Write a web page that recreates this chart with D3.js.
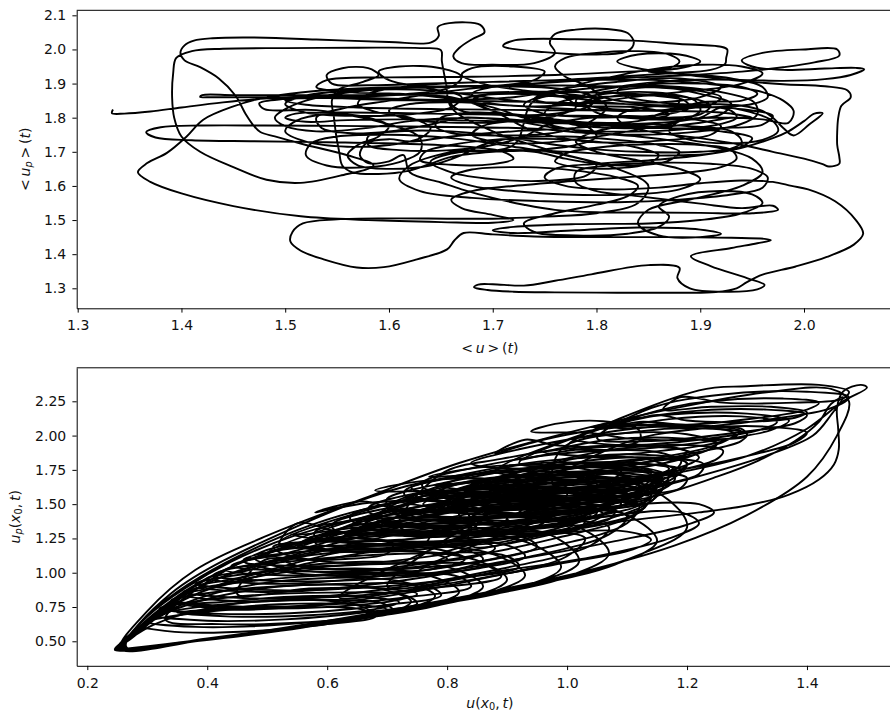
<!DOCTYPE html>
<html>
<head>
<meta charset="utf-8">
<script src="https://cdn.jsdelivr.net/npm/d3@7"></script>
<style>
  body { margin: 0; background: #fff; }
  svg { display: block; }
  text { font-family: "DejaVu Sans", sans-serif; fill: #111; }
</style>
</head>
<body>
<svg id="fig" width="890" height="713"></svg>
<script>
// ---- tick values ----
const meanUTicks  = [1.3, 1.4, 1.5, 1.6, 1.7, 1.8, 1.9, 2.0];
const meanUpTicks = [1.3, 1.4, 1.5, 1.6, 1.7, 1.8, 1.9, 2.0, 2.1];
const localUTicks  = [0.2, 0.4, 0.6, 0.8, 1.0, 1.2, 1.4];
const localUpTicks = [0.5, 0.75, 1.0, 1.25, 1.5, 1.75, 2.0, 2.25];

// ---- spatial means <u>(t), <u_p>(t): one trajectory, stored piece by piece ----
const meanStart = [[1.334,1.824],[1.333,1.813],[1.345,1.812],[1.37,1.818],[1.40,1.830],[1.44,1.845],[1.48,1.856],[1.53,1.863],[1.60,1.868],[1.67,1.872],[1.74,1.876],[1.80,1.874],[1.85,1.866],[1.885,1.850],[1.89,1.830],[1.87,1.812],[1.83,1.802],[1.78,1.803],[1.745,1.815],[1.73,1.838],[1.745,1.862],[1.78,1.882],[1.83,1.893],[1.88,1.890],[1.925,1.872],[1.952,1.845],[1.955,1.810],[1.938,1.780],[1.900,1.760],[1.845,1.750],[1.790,1.755],[1.740,1.768]];
const meanLeft = [[1.68,1.772],[1.62,1.774],[1.55,1.776],[1.48,1.777],[1.42,1.777],[1.38,1.772],[1.366,1.758],[1.375,1.742],[1.41,1.734],[1.47,1.731],[1.54,1.728],[1.61,1.724],[1.67,1.716],[1.71,1.700],[1.72,1.680],[1.70,1.664],[1.66,1.662],[1.63,1.676],[1.635,1.700],[1.66,1.720],[1.70,1.735],[1.75,1.738],[1.80,1.730],[1.84,1.712],[1.86,1.690],[1.85,1.665],[1.82,1.652],[1.78,1.655],[1.76,1.672],[1.77,1.695],[1.80,1.712],[1.85,1.722],[1.90,1.720],[1.93,1.705],[1.935,1.680],[1.92,1.655],[1.89,1.640]];
const meanSweep = [[1.84,1.628],[1.78,1.615],[1.72,1.600],[1.68,1.585],[1.66,1.560],[1.67,1.535],[1.70,1.515],[1.72,1.500],[1.70,1.492],[1.65,1.494],[1.58,1.500],[1.515,1.511],[1.45,1.541],[1.40,1.578],[1.37,1.612],[1.358,1.640],[1.367,1.667],[1.386,1.697],[1.405,1.745],[1.421,1.794],[1.45,1.833],[1.482,1.860],[1.515,1.874],[1.56,1.884],[1.62,1.890],[1.68,1.893],[1.74,1.895],[1.80,1.893],[1.86,1.888],[1.90,1.878],[1.92,1.860],[1.91,1.838],[1.88,1.825],[1.84,1.822],[1.80,1.830],[1.78,1.848],[1.79,1.870],[1.82,1.890],[1.86,1.905],[1.91,1.912],[1.95,1.910],[1.98,1.908],[2.02,1.913],[2.045,1.925],[2.058,1.942],[2.050,1.946],[2.02,1.944],[1.98,1.940]];
const meanTopRight = [[1.95,1.950],[1.94,1.968],[1.96,1.990],[2.00,2.000],[2.032,2.000],[2.034,1.982],[2.01,1.962],[1.98,1.948],[1.94,1.935],[1.89,1.925],[1.84,1.918],[1.79,1.910],[1.74,1.900],[1.70,1.890],[1.68,1.870],[1.69,1.848],[1.72,1.835],[1.76,1.835],[1.79,1.848],[1.80,1.870],[1.79,1.895],[1.77,1.920],[1.76,1.950],[1.77,1.975],[1.80,1.990],[1.84,1.995],[1.87,1.985],[1.88,1.965],[1.87,1.945],[1.85,1.935]];
const meanRightEdge = [[1.88,1.928],[1.93,1.910],[1.98,1.898],[2.02,1.892],[2.042,1.880],[2.045,1.860],[2.036,1.835],[2.033,1.800],[2.032,1.760],[2.032,1.720],[2.034,1.685],[2.034,1.665],[2.024,1.657],[2.018,1.664],[2.00,1.680],[1.97,1.700],[1.94,1.720],[1.90,1.740],[1.86,1.755],[1.83,1.775],[1.82,1.800],[1.83,1.820],[1.86,1.835],[1.90,1.840],[1.94,1.835],[1.96,1.820],[1.97,1.800],[1.98,1.770],[1.99,1.748],[2.005,1.780],[2.018,1.813],[2.010,1.812],[2.000,1.790],[1.985,1.760],[1.97,1.740],[1.94,1.712],[1.90,1.690],[1.85,1.675]];
const meanLowRight = [[1.80,1.665],[1.76,1.650],[1.75,1.625],[1.77,1.600],[1.81,1.590],[1.86,1.595],[1.90,1.608],[1.94,1.616],[1.97,1.612],[1.988,1.600],[2.004,1.590],[2.03,1.555],[2.050,1.500],[2.057,1.460],[2.048,1.428],[2.022,1.392],[1.992,1.364],[1.960,1.340],[1.945,1.318],[1.935,1.300],[1.915,1.289],[1.88,1.287],[1.82,1.287],[1.76,1.288],[1.72,1.290],[1.695,1.295],[1.682,1.303],[1.686,1.311],[1.70,1.312],[1.73,1.308],[1.76,1.322],[1.795,1.341],[1.85,1.368],[1.88,1.360],[1.878,1.330],[1.89,1.300],[1.925,1.290],[1.955,1.297],[1.962,1.310],[1.945,1.330],[1.91,1.365],[1.891,1.394],[1.93,1.418],[1.955,1.432],[1.968,1.441],[1.962,1.445],[1.93,1.448],[1.88,1.450],[1.80,1.450],[1.74,1.452],[1.70,1.458],[1.672,1.462],[1.663,1.440],[1.656,1.414],[1.627,1.385],[1.595,1.362],[1.569,1.361],[1.537,1.385],[1.515,1.410],[1.505,1.437],[1.507,1.465],[1.517,1.490],[1.55,1.502],[1.60,1.505],[1.66,1.504],[1.70,1.504],[1.75,1.510]];
const meanTopLeft = [[1.80,1.520],[1.84,1.550],[1.85,1.600],[1.82,1.650],[1.76,1.700],[1.70,1.760],[1.66,1.830],[1.655,1.900],[1.651,1.965],[1.650,1.998],[1.63,2.004],[1.57,2.005],[1.50,2.004],[1.44,2.002],[1.41,1.995],[1.395,1.975],[1.392,1.930],[1.391,1.860],[1.393,1.800],[1.400,1.745],[1.418,1.700],[1.45,1.655],[1.482,1.618],[1.515,1.609],[1.553,1.630],[1.585,1.660],[1.56,1.690],[1.52,1.720],[1.49,1.745],[1.476,1.758],[1.470,1.775],[1.462,1.810],[1.452,1.865],[1.436,1.915],[1.418,1.948],[1.403,1.968],[1.399,1.990],[1.403,2.012],[1.412,2.026],[1.43,2.033],[1.47,2.035],[1.53,2.029],[1.60,2.022],[1.64,2.020],[1.648,2.040],[1.647,2.065],[1.658,2.077],[1.688,2.072],[1.692,2.050],[1.68,2.030],[1.668,2.005],[1.662,1.980],[1.67,1.960],[1.70,1.955],[1.74,1.960],[1.76,1.990],[1.755,2.020],[1.76,2.045],[1.78,2.058],[1.81,2.060],[1.83,2.048],[1.836,2.020],[1.83,1.995],[1.80,1.985],[1.75,1.992],[1.71,2.010],[1.72,2.026],[1.78,2.030],[1.84,2.025],[1.88,2.016],[1.92,2.008],[1.926,2.000],[1.925,1.975],[1.924,1.958],[1.91,1.940]];
const meanCore1 = [[1.87,1.930],[1.82,1.920],[1.76,1.910],[1.70,1.905],[1.64,1.900],[1.58,1.895],[1.545,1.900],[1.540,1.925],[1.555,1.945],[1.58,1.945],[1.59,1.925],[1.575,1.905],[1.55,1.880],[1.545,1.850],[1.547,1.800],[1.549,1.750],[1.552,1.700],[1.555,1.660],[1.565,1.640],[1.59,1.635],[1.62,1.645],[1.64,1.665],[1.66,1.685],[1.70,1.700],[1.74,1.705],[1.78,1.720],[1.80,1.745],[1.79,1.775],[1.76,1.790],[1.72,1.790],[1.69,1.775],[1.68,1.750],[1.70,1.730],[1.74,1.725],[1.79,1.740],[1.84,1.765],[1.88,1.790],[1.90,1.820],[1.895,1.850],[1.87,1.870],[1.83,1.875],[1.79,1.862],[1.76,1.840],[1.75,1.810],[1.77,1.785],[1.81,1.770],[1.86,1.772],[1.90,1.785],[1.93,1.800]];
const meanCore2 = [[1.95,1.800],[1.92,1.815],[1.85,1.820],[1.75,1.822],[1.65,1.825],[1.57,1.830],[1.52,1.838],[1.50,1.850],[1.52,1.858],[1.60,1.852],[1.70,1.848],[1.80,1.842],[1.88,1.835],[1.94,1.825],[1.97,1.805],[1.96,1.780],[1.92,1.770],[1.85,1.770],[1.78,1.782],[1.70,1.790],[1.62,1.795],[1.56,1.793],[1.52,1.788],[1.50,1.800],[1.51,1.812],[1.56,1.815],[1.64,1.812],[1.72,1.808],[1.80,1.805],[1.86,1.800],[1.90,1.792],[1.92,1.775],[1.91,1.750],[1.87,1.735],[1.80,1.728],[1.74,1.760],[1.70,1.820],[1.66,1.860],[1.58,1.866],[1.50,1.866],[1.45,1.866],[1.42,1.866],[1.418,1.861],[1.43,1.860],[1.50,1.860],[1.58,1.858],[1.66,1.852],[1.72,1.860],[1.76,1.880],[1.80,1.910],[1.85,1.940],[1.90,1.955],[1.94,1.950],[1.96,1.930],[1.94,1.900],[1.88,1.875],[1.80,1.860],[1.74,1.850],[1.72,1.720]];
const meanCore3 = [[1.66,1.700],[1.62,1.660],[1.61,1.620],[1.63,1.585],[1.68,1.565],[1.75,1.555],[1.82,1.552],[1.88,1.560],[1.93,1.575],[1.96,1.595],[1.965,1.625],[1.95,1.650],[1.91,1.665],[1.86,1.668],[1.81,1.660],[1.78,1.640],[1.78,1.610],[1.80,1.585],[1.84,1.570],[1.90,1.548],[1.94,1.535],[1.97,1.542],[1.975,1.530],[1.95,1.520],[1.90,1.521],[1.85,1.522],[1.80,1.523],[1.76,1.530],[1.73,1.545],[1.70,1.565],[1.67,1.590],[1.65,1.610],[1.62,1.640],[1.614,1.690],[1.60,1.672],[1.58,1.667],[1.572,1.690],[1.578,1.725],[1.60,1.737],[1.62,1.730],[1.66,1.745],[1.72,1.760],[1.78,1.770],[1.84,1.790],[1.87,1.810],[1.84,1.830],[1.78,1.835],[1.74,1.855],[1.76,1.880],[1.82,1.905],[1.88,1.915],[1.92,1.890],[1.90,1.860],[1.86,1.845],[1.82,1.850],[1.80,1.870],[1.82,1.880]];
const meanCore4 = [[1.86,1.890],[1.90,1.870],[1.93,1.840],[1.92,1.810],[1.88,1.795],[1.83,1.800],[1.80,1.815],[1.79,1.840],[1.81,1.860],[1.85,1.868],[1.88,1.855],[1.875,1.830],[1.84,1.820],[1.78,1.825],[1.72,1.835],[1.67,1.845],[1.62,1.840],[1.60,1.820],[1.62,1.795],[1.67,1.785],[1.72,1.790],[1.76,1.805],[1.78,1.830],[1.77,1.858],[1.74,1.872],[1.70,1.870],[1.68,1.850],[1.70,1.820],[1.75,1.795],[1.81,1.780],[1.87,1.770],[1.92,1.760],[1.95,1.740],[1.94,1.715],[1.90,1.700],[1.84,1.700],[1.79,1.710],[1.75,1.725],[1.71,1.745],[1.66,1.760],[1.61,1.760],[1.58,1.745],[1.58,1.720],[1.61,1.705],[1.66,1.705],[1.70,1.720],[1.73,1.745],[1.75,1.775],[1.78,1.795],[1.83,1.805],[1.87,1.800],[1.90,1.810],[1.91,1.835],[1.89,1.858],[1.85,1.865],[1.81,1.850]];
const meanCore5 = [[1.78,1.840],[1.72,1.850],[1.64,1.880],[1.57,1.880],[1.52,1.865],[1.50,1.840],[1.52,1.815],[1.57,1.805],[1.62,1.810],[1.66,1.830],[1.67,1.860],[1.64,1.885],[1.60,1.910],[1.59,1.935],[1.61,1.950],[1.65,1.945],[1.67,1.920],[1.66,1.890],[1.62,1.870],[1.56,1.860],[1.50,1.855],[1.475,1.842],[1.48,1.825],[1.53,1.822],[1.60,1.780],[1.63,1.740],[1.63,1.700],[1.61,1.670],[1.58,1.655],[1.54,1.660],[1.52,1.690],[1.525,1.725],[1.55,1.745],[1.60,1.750],[1.66,1.740],[1.72,1.715],[1.77,1.690],[1.80,1.660],[1.79,1.630],[1.75,1.615],[1.70,1.620],[1.66,1.640],[1.64,1.670],[1.66,1.695],[1.71,1.705],[1.77,1.700],[1.83,1.690],[1.88,1.690],[1.92,1.700],[1.94,1.730],[1.93,1.760],[1.89,1.775]];
const meanCore6 = [[1.85,1.780],[1.80,1.760],[1.78,1.730],[1.80,1.700],[1.84,1.675],[1.88,1.650],[1.90,1.620],[1.88,1.590],[1.83,1.575],[1.77,1.575],[1.72,1.585],[1.68,1.600],[1.66,1.625],[1.68,1.648],[1.73,1.655],[1.78,1.645],[1.82,1.625],[1.84,1.600],[1.83,1.570],[1.80,1.545],[1.76,1.520],[1.73,1.490],[1.74,1.465],[1.78,1.455],[1.83,1.460],[1.86,1.480],[1.87,1.510],[1.86,1.540],[1.88,1.570],[1.92,1.585],[1.95,1.575],[1.96,1.550],[1.94,1.520],[1.90,1.500],[1.85,1.490],[1.78,1.488],[1.72,1.480],[1.70,1.470],[1.72,1.462],[1.78,1.470],[1.84,1.478],[1.90,1.472],[1.92,1.460],[1.90,1.450],[1.86,1.455],[1.84,1.490],[1.85,1.530],[1.89,1.560],[1.94,1.600],[1.96,1.640],[1.95,1.680],[1.92,1.710],[1.88,1.730],[1.84,1.745]];
const meanCore7 = [[1.80,1.755],[1.76,1.775],[1.73,1.800],[1.70,1.830],[1.66,1.855],[1.61,1.870],[1.56,1.875],[1.53,1.890],[1.54,1.910],[1.60,1.918],[1.68,1.920],[1.76,1.925],[1.83,1.935],[1.88,1.945],[1.90,1.965],[1.88,1.985],[1.84,1.985],[1.82,1.965],[1.84,1.945],[1.88,1.930],[1.93,1.915],[1.96,1.890],[1.965,1.860],[1.95,1.840],[1.90,1.830],[1.85,1.835],[1.81,1.845],[1.77,1.860],[1.72,1.870],[1.68,1.862],[1.66,1.842],[1.67,1.820],[1.71,1.808],[1.76,1.812],[1.79,1.830],[1.80,1.855],[1.78,1.878],[1.74,1.890],[1.69,1.888],[1.64,1.870],[1.60,1.850],[1.56,1.830],[1.53,1.800],[1.535,1.770],[1.56,1.755],[1.60,1.760],[1.64,1.780],[1.67,1.800],[1.72,1.790],[1.76,1.770],[1.80,1.760],[1.85,1.760],[1.89,1.768],[1.92,1.782],[1.935,1.800]];
const meanCore8 = [[1.93,1.820],[1.90,1.835],[1.86,1.845],[1.83,1.860],[1.82,1.880],[1.85,1.897],[1.90,1.900],[1.94,1.890],[1.955,1.870],[1.94,1.850],[1.90,1.845],[1.86,1.810],[1.84,1.790],[1.80,1.785],[1.76,1.795],[1.72,1.810],[1.68,1.815],[1.65,1.800],[1.645,1.775],[1.66,1.755],[1.70,1.748],[1.75,1.752],[1.78,1.770],[1.80,1.800],[1.81,1.830],[1.80,1.855],[1.77,1.870],[1.73,1.880],[1.69,1.900],[1.67,1.925],[1.68,1.945],[1.72,1.950],[1.75,1.935],[1.74,1.910],[1.71,1.895],[1.66,1.890],[1.60,1.885],[1.55,1.870],[1.52,1.850],[1.50,1.825],[1.49,1.800],[1.50,1.775],[1.53,1.760],[1.58,1.770],[1.62,1.790],[1.68,1.800],[1.74,1.790],[1.80,1.780],[1.86,1.785],[1.90,1.800],[1.92,1.830]];
const meanCore9 = [[1.95,1.815],[1.97,1.790],[1.975,1.760],[1.96,1.735],[1.93,1.725],[1.89,1.735],[1.87,1.760],[1.88,1.790],[1.92,1.800],[1.96,1.795],[1.985,1.785],[1.99,1.820],[1.98,1.850],[1.96,1.875],[1.92,1.895],[1.86,1.910],[1.78,1.910],[1.70,1.905],[1.63,1.895],[1.58,1.870],[1.57,1.840],[1.59,1.815],[1.62,1.800],[1.64,1.770],[1.63,1.740],[1.60,1.720],[1.56,1.715],[1.52,1.730],[1.50,1.760],[1.51,1.790],[1.54,1.810],[1.58,1.800],[1.60,1.775],[1.59,1.745],[1.57,1.720],[1.56,1.690],[1.57,1.660],[1.60,1.650],[1.64,1.660],[1.67,1.690],[1.69,1.720],[1.72,1.740],[1.77,1.745],[1.82,1.735],[1.86,1.720],[1.88,1.700],[1.87,1.675],[1.84,1.660],[1.80,1.665],[1.77,1.680],[1.74,1.700],[1.70,1.705]];

// ---- u(x0,t), u_p(x0,t): loops of the local trajectory ----
const localTipLoops = [[0.245,0.437],[0.33,0.478],[0.45,0.535],[0.56,0.600],[0.64,0.660],[0.67,0.720],[0.63,0.780],[0.52,0.800],[0.40,0.740],[0.31,0.620],[0.265,0.500],
  [0.247,0.440],[0.34,0.485],[0.47,0.550],[0.60,0.630],[0.70,0.700],[0.74,0.790],[0.69,0.880],[0.56,0.910],[0.42,0.830],[0.32,0.680],[0.27,0.520],
  [0.250,0.442],[0.35,0.490],[0.50,0.570],[0.65,0.665],[0.77,0.760],[0.82,0.860],[0.77,0.980],[0.62,1.030],[0.46,0.950],[0.34,0.760],[0.275,0.540],
  [0.252,0.445],[0.36,0.495],[0.53,0.590],[0.70,0.700],[0.84,0.820],[0.90,0.950],[0.85,1.090],[0.70,1.160],[0.51,1.080],[0.37,0.860],[0.28,0.570],
  [0.255,0.448],[0.37,0.500],[0.56,0.610],[0.76,0.750],[0.92,0.890],[0.99,1.040],[0.94,1.210],[0.77,1.300],[0.56,1.210],[0.40,0.960],[0.29,0.620],
  [0.258,0.450],[0.38,0.505],[0.60,0.640],[0.82,0.800],[1.00,0.970],[1.07,1.140],[1.02,1.330],[0.85,1.450],[0.62,1.360],[0.44,1.080],[0.30,0.680],
  [0.260,0.452],[0.39,0.510],[0.64,0.670],[0.90,0.870],[1.08,1.060],[1.15,1.230],[1.10,1.420],[0.92,1.560],[0.68,1.480],[0.48,1.180],[0.32,0.760],
  [0.262,0.455],[0.40,0.520],[0.68,0.700],[0.95,0.920],[1.12,1.130],[1.20,1.330],[1.16,1.560],[1.00,1.730],[0.76,1.660],[0.53,1.300],[0.34,0.850],
  [0.265,0.458],[0.42,0.530],[0.72,0.740],[1.00,0.980],[1.18,1.200],[1.30,1.420],[1.40,1.700],[1.45,2.000],[1.47,2.250],[1.44,2.340],[1.34,2.320],[1.18,2.200],[1.00,2.020],[0.82,1.800],[0.66,1.540],[0.50,1.270],[0.38,1.020],[0.30,0.720],
  [0.255,0.445],[0.38,0.500],[0.58,0.620],[0.78,0.770],[0.94,0.920],[1.02,1.080],[0.98,1.260],[0.82,1.360],[0.60,1.270],[0.42,1.000],[0.30,0.650],
  [0.250,0.443],[0.36,0.492],[0.54,0.595],[0.72,0.720],[0.86,0.840],[0.93,0.980],[0.88,1.130],[0.72,1.200],[0.53,1.110],[0.38,0.880],[0.29,0.590],
  [0.248,0.441],[0.35,0.488],[0.52,0.580],[0.68,0.680],[0.80,0.780],[0.86,0.900],[0.81,1.030],[0.66,1.080],[0.48,0.990],[0.36,0.800],[0.28,0.560],
  [0.246,0.439],[0.34,0.483],[0.48,0.560],[0.62,0.645],[0.73,0.730],[0.78,0.830],[0.73,0.930],[0.59,0.960],[0.44,0.880],[0.33,0.710],[0.27,0.510],[0.245,0.440]];
const localLowLoops = [[0.29,0.600],[0.36,0.565],[0.48,0.575],[0.60,0.625],[0.68,0.680],[0.66,0.730],[0.55,0.750],[0.42,0.725],[0.33,0.675],
  [0.30,0.640],[0.38,0.605],[0.50,0.615],[0.63,0.665],[0.71,0.725],[0.69,0.780],[0.57,0.800],[0.44,0.775],[0.34,0.720],
  [0.31,0.690],[0.40,0.650],[0.53,0.660],[0.66,0.710],[0.75,0.775],[0.73,0.835],[0.60,0.855],[0.46,0.830],[0.35,0.770],
  [0.32,0.740],[0.42,0.700],[0.56,0.710],[0.70,0.765],[0.79,0.835],[0.77,0.900],[0.63,0.920],[0.48,0.890],[0.37,0.830],
  [0.34,0.800],[0.44,0.755],[0.59,0.765],[0.74,0.825],[0.84,0.900],[0.82,0.970],[0.67,0.990],[0.51,0.955],[0.39,0.890],
  [0.36,0.860],[0.46,0.815],[0.62,0.825],[0.78,0.890],[0.89,0.970],[0.87,1.045],[0.71,1.065],[0.54,1.025],[0.41,0.955],
  [0.38,0.920],[0.49,0.875],[0.66,0.890],[0.82,0.960],[0.92,1.045],[0.90,1.120],[0.74,1.140],[0.57,1.095],[0.43,1.020],
  [0.41,0.980],[0.52,0.940],[0.69,0.955],[0.85,1.030],[0.93,1.120],[0.90,1.200],[0.76,1.220],[0.60,1.170],[0.46,1.085],
  [0.44,1.050],[0.55,1.010],[0.72,1.025],[0.88,1.100],[0.95,1.190],[0.92,1.270],[0.78,1.290],[0.62,1.240],[0.49,1.150],
  [0.33,0.660],[0.42,0.625],[0.55,0.635],[0.66,0.680],[0.70,0.730],[0.64,0.770],[0.52,0.770],[0.40,0.730],
  [0.35,0.710],[0.44,0.680],[0.57,0.690],[0.68,0.735],[0.72,0.785],[0.66,0.825],[0.54,0.825],[0.42,0.785],
  [0.37,0.770],[0.47,0.740],[0.60,0.750],[0.71,0.795],[0.75,0.845],[0.69,0.885],[0.57,0.885],[0.45,0.845],
  [0.50,1.100],[0.56,1.040],[0.66,1.025],[0.76,1.050],[0.80,1.100],[0.76,1.150],[0.65,1.170],[0.55,1.150],
  [0.48,1.100],[0.55,1.020],[0.66,1.000],[0.78,1.030],[0.83,1.100],[0.78,1.175],[0.65,1.200],[0.53,1.170],
  [0.46,1.090],[0.54,1.000],[0.67,0.975],[0.80,1.010],[0.86,1.100],[0.80,1.200],[0.65,1.230],[0.51,1.190],
  [0.52,1.150],[0.60,1.080],[0.72,1.070],[0.84,1.110],[0.88,1.180],[0.82,1.260],[0.68,1.280],[0.56,1.230]];
const localCoreLoops = [[0.55,1.200],[0.66,1.150],[0.82,1.200],[0.98,1.320],[1.05,1.440],[1.00,1.540],[0.85,1.540],[0.68,1.420],[0.58,1.300],
  [0.58,1.260],[0.69,1.210],[0.85,1.260],[1.00,1.380],[1.07,1.500],[1.02,1.600],[0.88,1.600],[0.71,1.480],[0.61,1.360],
  [0.61,1.320],[0.72,1.270],[0.88,1.320],[1.03,1.440],[1.10,1.560],[1.05,1.660],[0.91,1.660],[0.74,1.540],[0.64,1.420],
  [0.64,1.380],[0.75,1.330],[0.91,1.380],[1.06,1.500],[1.13,1.620],[1.08,1.720],[0.94,1.720],[0.77,1.600],[0.67,1.480],
  [0.67,1.440],[0.78,1.390],[0.94,1.440],[1.09,1.560],[1.16,1.680],[1.11,1.780],[0.97,1.780],[0.80,1.660],[0.70,1.540],
  [0.70,1.500],[0.81,1.450],[0.97,1.500],[1.12,1.620],[1.18,1.740],[1.13,1.830],[1.00,1.830],[0.83,1.720],[0.73,1.600],
  [0.73,1.560],[0.84,1.510],[1.00,1.560],[1.14,1.680],[1.20,1.790],[1.15,1.880],[1.02,1.880],[0.86,1.780],[0.76,1.660],
  [0.76,1.620],[0.87,1.570],[1.02,1.620],[1.16,1.730],[1.22,1.840],[1.17,1.920],[1.04,1.920],[0.89,1.830],[0.79,1.720],
  [0.72,1.340],[0.82,1.300],[0.95,1.340],[1.06,1.430],[1.10,1.520],[1.05,1.590],[0.93,1.590],[0.80,1.500],[0.74,1.420],
  [0.75,1.400],[0.85,1.360],[0.98,1.400],[1.09,1.490],[1.13,1.580],[1.08,1.650],[0.96,1.650],[0.83,1.560],[0.77,1.480],
  [0.78,1.460],[0.88,1.420],[1.01,1.460],[1.12,1.550],[1.15,1.640],[1.10,1.710],[0.98,1.710],[0.86,1.620],[0.80,1.540],
  [0.81,1.520],[0.91,1.480],[1.04,1.520],[1.14,1.610],[1.17,1.700],[1.12,1.770],[1.00,1.770],[0.89,1.680],[0.83,1.600],
  [0.84,1.400],[0.93,1.370],[1.04,1.410],[1.12,1.490],[1.14,1.570],[1.09,1.620],[0.98,1.610],[0.88,1.530],
  [0.86,1.460],[0.95,1.430],[1.06,1.470],[1.14,1.550],[1.16,1.630],[1.11,1.680],[1.00,1.670],[0.90,1.590],
  [0.88,1.520],[0.97,1.490],[1.08,1.530],[1.16,1.610],[1.18,1.690],[1.13,1.740],[1.02,1.730],[0.92,1.650],
  [0.62,1.240],[0.74,1.200],[0.90,1.250],[1.02,1.340],[1.06,1.430],[1.00,1.490],[0.86,1.470],[0.72,1.380],[0.65,1.310],
  [0.66,1.300],[0.78,1.260],[0.94,1.320],[1.06,1.420],[1.09,1.510],[1.03,1.560],[0.89,1.530],[0.75,1.430],[0.69,1.370],
  [0.80,1.320],[0.90,1.280],[1.02,1.330],[1.11,1.420],[1.13,1.500],[1.06,1.540],[0.95,1.510],[0.85,1.430],
  [0.90,1.580],[0.99,1.560],[1.10,1.600],[1.17,1.670],[1.19,1.750],[1.13,1.790],[1.03,1.770],[0.94,1.700],
  [0.92,1.640],[1.01,1.620],[1.12,1.660],[1.19,1.730],[1.20,1.800],[1.14,1.840],[1.04,1.820],[0.96,1.750]];
const localDenseLoops = [[0.74,1.36],[0.79,1.31],[0.88,1.31],[0.96,1.36],[0.97,1.44],[0.91,1.49],[0.82,1.48],[0.76,1.43],
  [0.78,1.41],[0.84,1.36],[0.93,1.36],[1.01,1.41],[1.02,1.49],[0.96,1.54],[0.87,1.53],[0.80,1.48],
  [0.82,1.48],[0.88,1.43],[0.98,1.43],[1.06,1.48],[1.07,1.56],[1.01,1.61],[0.91,1.60],[0.84,1.55],
  [0.87,1.56],[0.93,1.51],[1.03,1.51],[1.11,1.56],[1.12,1.64],[1.06,1.69],[0.96,1.68],[0.89,1.63],
  [0.90,1.64],[0.96,1.59],[1.06,1.59],[1.13,1.64],[1.14,1.72],[1.08,1.77],[0.98,1.76],[0.92,1.71],
  [0.76,1.50],[0.82,1.46],[0.92,1.46],[0.99,1.51],[1.00,1.59],[0.94,1.63],[0.85,1.62],[0.78,1.57],
  [0.80,1.58],[0.87,1.53],[0.97,1.53],[1.04,1.58],[1.05,1.66],[0.99,1.71],[0.89,1.70],[0.82,1.65],
  [0.71,1.44],[0.76,1.39],[0.85,1.39],[0.92,1.44],[0.93,1.52],[0.88,1.56],[0.79,1.55],[0.73,1.50],
  [0.66,1.34],[0.72,1.29],[0.82,1.29],[0.89,1.34],[0.90,1.42],[0.84,1.46],[0.75,1.45],[0.68,1.40],
  [0.60,1.26],[0.66,1.21],[0.76,1.21],[0.83,1.26],[0.84,1.34],[0.78,1.38],[0.69,1.37],[0.62,1.32],
  [0.55,1.20],[0.60,1.16],[0.69,1.16],[0.76,1.20],[0.77,1.27],[0.72,1.31],[0.63,1.30],[0.57,1.26],
  [0.86,1.38],[0.91,1.34],[1.00,1.34],[1.07,1.39],[1.08,1.46],[1.03,1.50],[0.94,1.49],[0.88,1.44],
  [0.94,1.51],[0.99,1.47],[1.08,1.47],[1.14,1.52],[1.15,1.59],[1.10,1.63],[1.01,1.62],[0.96,1.57],
  [0.85,1.68],[0.91,1.64],[1.01,1.64],[1.08,1.69],[1.09,1.76],[1.03,1.80],[0.93,1.79],[0.87,1.74],
  [0.74,1.62],[0.81,1.56],[0.93,1.56],[1.03,1.62],[1.05,1.72],[0.98,1.78],[0.86,1.77],[0.77,1.70],
  [0.96,1.74],[1.02,1.70],[1.11,1.70],[1.18,1.75],[1.19,1.82],[1.13,1.86],[1.04,1.85],[0.98,1.80],
  [0.50,1.14],[0.55,1.10],[0.63,1.10],[0.70,1.14],[0.71,1.21],[0.66,1.25],[0.58,1.24],[0.52,1.20],
  [0.55,1.36],[0.62,1.30],[0.75,1.30],[0.85,1.36],[0.87,1.46],[0.80,1.52],[0.67,1.51],[0.58,1.44],
  [0.66,1.52],[0.72,1.46],[0.84,1.46],[0.93,1.52],[0.95,1.62],[0.88,1.68],[0.76,1.67],[0.68,1.60],
  [0.99,1.61],[1.04,1.57],[1.13,1.57],[1.19,1.62],[1.20,1.69],[1.15,1.73],[1.06,1.72],[1.01,1.67],
  [0.80,1.31],[0.86,1.27],[0.95,1.27],[1.02,1.32],[1.03,1.39],[0.98,1.43],[0.89,1.42],[0.82,1.37]];
const localFlatLoops = [[0.70,1.46],[0.78,1.41],[0.92,1.42],[1.04,1.47],[1.08,1.53],[1.02,1.58],[0.88,1.58],[0.76,1.53],
  [0.72,1.52],[0.80,1.47],[0.94,1.48],[1.06,1.53],[1.10,1.59],[1.04,1.64],[0.90,1.64],[0.78,1.59],
  [0.75,1.58],[0.83,1.53],[0.97,1.54],[1.08,1.59],[1.12,1.65],[1.06,1.70],[0.92,1.70],[0.81,1.65],
  [0.78,1.64],[0.86,1.59],[1.00,1.60],[1.10,1.65],[1.14,1.71],[1.08,1.76],[0.95,1.76],[0.84,1.71],
  [0.68,1.40],[0.76,1.35],[0.90,1.36],[1.02,1.41],[1.06,1.47],[1.00,1.52],[0.86,1.52],[0.74,1.47],
  [0.66,1.34],[0.74,1.29],[0.88,1.30],[1.00,1.35],[1.04,1.41],[0.98,1.46],[0.84,1.46],[0.72,1.41],
  [0.63,1.28],[0.71,1.23],[0.85,1.24],[0.97,1.29],[1.01,1.35],[0.95,1.40],[0.81,1.40],[0.69,1.35],
  [0.80,1.50],[0.87,1.46],[0.98,1.47],[1.08,1.51],[1.11,1.56],[1.06,1.60],[0.95,1.60],[0.85,1.56],
  [0.82,1.42],[0.89,1.38],[1.00,1.39],[1.10,1.43],[1.13,1.48],[1.08,1.52],[0.97,1.52],[0.87,1.48],
  [0.84,1.56],[0.91,1.52],[1.02,1.53],[1.12,1.57],[1.15,1.62],[1.10,1.66],[0.99,1.66],[0.89,1.62],
  [0.86,1.62],[0.93,1.58],[1.04,1.59],[1.13,1.63],[1.16,1.68],[1.11,1.72],[1.00,1.72],[0.91,1.68],
  [0.76,1.44],[0.83,1.40],[0.94,1.41],[1.04,1.45],[1.07,1.50],[1.02,1.54],[0.91,1.54],[0.81,1.50],
  [0.90,1.70],[0.97,1.66],[1.07,1.67],[1.15,1.71],[1.17,1.76],[1.12,1.80],[1.02,1.80],[0.94,1.76],
  [0.58,1.22],[0.66,1.18],[0.79,1.19],[0.90,1.23],[0.93,1.28],[0.88,1.32],[0.75,1.32],[0.63,1.28],
  [0.88,1.48],[0.95,1.45],[1.05,1.46],[1.12,1.50],[1.14,1.55],[1.09,1.58],[0.99,1.58],[0.92,1.54],
  [0.92,1.58],[0.99,1.55],[1.08,1.56],[1.15,1.60],[1.17,1.65],[1.12,1.68],[1.02,1.68],[0.95,1.64],
  [0.74,1.56],[0.80,1.52],[0.90,1.53],[0.98,1.57],[1.00,1.62],[0.95,1.66],[0.85,1.66],[0.78,1.62],
  [0.70,1.48],[0.76,1.44],[0.86,1.45],[0.94,1.49],[0.96,1.54],[0.91,1.58],[0.81,1.58],[0.74,1.54],
  [0.52,1.22],[0.59,1.17],[0.70,1.18],[0.80,1.23],[0.83,1.29],[0.77,1.34],[0.65,1.33],[0.56,1.28],
  [0.54,1.28],[0.61,1.23],[0.72,1.24],[0.82,1.29],[0.85,1.35],[0.79,1.40],[0.67,1.39],[0.58,1.34]];
const localLongLoops = [[0.34,0.78],[0.45,0.73],[0.65,0.80],[0.85,0.95],[1.00,1.12],[1.03,1.25],[0.95,1.30],[0.78,1.22],[0.58,1.08],[0.42,0.90],
  [0.36,0.84],[0.48,0.79],[0.68,0.87],[0.88,1.02],[1.04,1.20],[1.07,1.33],[0.99,1.38],[0.82,1.30],[0.62,1.15],[0.45,0.96],
  [0.38,0.90],[0.51,0.86],[0.72,0.94],[0.92,1.10],[1.07,1.28],[1.10,1.41],[1.02,1.46],[0.85,1.38],[0.65,1.22],[0.47,1.02],
  [0.40,0.96],[0.53,0.92],[0.75,1.01],[0.95,1.17],[1.10,1.36],[1.12,1.49],[1.05,1.54],[0.88,1.46],[0.68,1.29],[0.50,1.08],
  [0.43,1.02],[0.56,0.98],[0.78,1.08],[0.98,1.25],[1.12,1.44],[1.14,1.57],[1.07,1.61],[0.90,1.53],[0.71,1.36],[0.53,1.14],
  [0.46,1.08],[0.60,1.05],[0.82,1.15],[1.01,1.32],[1.14,1.52],[1.16,1.64],[1.09,1.68],[0.93,1.60],[0.74,1.43],[0.56,1.20]];
const localUpperLoops = [[0.80,1.700],[0.93,1.680],[1.08,1.740],[1.20,1.840],[1.25,1.940],[1.20,2.010],[1.07,2.010],[0.92,1.900],[0.84,1.800],
  [0.85,1.780],[0.98,1.760],[1.12,1.820],[1.24,1.920],[1.28,2.010],[1.22,2.070],[1.10,2.070],[0.96,1.970],[0.88,1.870],
  [0.93,1.970],[0.98,1.930],[1.06,1.920],[1.12,1.960],[1.12,2.040],[1.06,2.105],[0.98,2.085],[0.94,2.030],
  [1.04,2.020],[1.10,1.980],[1.22,1.970],[1.30,2.000],[1.29,2.050],[1.19,2.070],[1.08,2.060],
  [1.15,2.150],[1.20,2.110],[1.30,2.100],[1.38,2.130],[1.40,2.170],[1.34,2.210],[1.24,2.210],[1.16,2.190],
  [1.19,2.280],[1.26,2.240],[1.38,2.240],[1.46,2.270],[1.47,2.320],[1.42,2.370],[1.30,2.360],[1.22,2.330],
  [1.00,1.920],[1.10,1.900],[1.24,1.960],[1.34,2.040],[1.37,2.110],[1.30,2.160],[1.16,2.150],[1.04,2.060],
  [1.10,2.080],[1.20,2.060],[1.34,2.120],[1.44,2.200],[1.47,2.280],[1.40,2.320],[1.26,2.300],[1.14,2.200],
  [1.05,1.980],[1.14,1.960],[1.28,2.020],[1.38,2.090],[1.40,2.150],[1.33,2.190],[1.19,2.170],[1.08,2.080],
  [0.92,1.80],[1.00,1.77],[1.12,1.80],[1.22,1.87],[1.25,1.94],[1.19,1.98],[1.07,1.97],[0.97,1.89],
  [0.96,1.88],[1.04,1.85],[1.16,1.89],[1.26,1.96],[1.29,2.03],[1.23,2.07],[1.11,2.05],[1.01,1.97],
  [1.02,1.96],[1.10,1.93],[1.22,1.97],[1.32,2.04],[1.35,2.10],[1.29,2.14],[1.17,2.12],[1.07,2.05],
  [1.12,2.10],[1.20,2.08],[1.32,2.13],[1.40,2.19],[1.42,2.24],[1.36,2.27],[1.24,2.25],[1.15,2.18],
  [0.88,1.74],[0.96,1.71],[1.08,1.75],[1.17,1.81],[1.20,1.88],[1.14,1.92],[1.02,1.90],[0.92,1.82]];
const localOuterLoops = [[1.00,1.600],[1.15,1.700],[1.30,1.850],[1.40,2.050],[1.46,2.250],[1.50,2.350],[1.49,2.370],[1.46,2.320],[1.45,2.200],[1.452,2.050],[1.453,1.900],[1.445,1.790],[1.42,1.680],[1.37,1.570],[1.30,1.490],[1.22,1.440],[1.10,1.380],[0.95,1.300],
  [0.90,1.400],[1.05,1.520],[1.20,1.680],[1.33,1.850],[1.41,2.000],[1.44,2.150],[1.46,2.280],[1.44,2.230],[1.42,2.100],[1.38,1.960],[1.32,1.820],[1.25,1.700],[1.15,1.560],[1.00,1.440],
  [0.75,1.000],[0.92,1.100],[1.08,1.230],[1.20,1.350],[1.245,1.440],[1.22,1.500],[1.12,1.500],[0.98,1.420],[0.85,1.300],
  [0.62,0.820],[0.80,0.920],[0.98,1.060],[1.11,1.170],[1.14,1.240],[1.10,1.300],[0.98,1.290],[0.84,1.200],
  [0.85,1.450],[1.00,1.520],[1.14,1.630],[1.22,1.720],[1.228,1.790],[1.18,1.830],[1.06,1.800],[0.94,1.680],
  [0.88,1.550],[1.03,1.620],[1.17,1.730],[1.25,1.830],[1.26,1.890],[1.21,1.930],[1.08,1.900],[0.96,1.780],
  [0.93,1.700],[1.08,1.770],[1.22,1.880],[1.29,1.960],[1.30,2.010],[1.24,2.050],[1.12,2.030],[0.99,1.900],
  [0.98,1.620],[1.15,1.720],[1.30,1.850],[1.38,1.950],[1.40,2.020],[1.35,2.060],[1.22,2.050],[1.08,1.920],
  [0.70,0.900],[0.90,1.020],[1.05,1.120],[1.17,1.250],[1.22,1.360],[1.19,1.440],[1.08,1.420],[0.92,1.300],[0.78,1.130]];

const meanPath = [].concat(meanStart, meanLeft, meanSweep, meanTopRight, meanRightEdge,
  meanLowRight, meanTopLeft, meanCore1, meanCore2, meanCore3, meanCore4, meanCore5,
  meanCore6, meanCore7, meanCore8, meanCore9);
const localPaths = [localTipLoops, localLowLoops, localCoreLoops, localDenseLoops,
  localFlatLoops, localLongLoops, localUpperLoops, localOuterLoops];

// ---- layout ----
const svg = d3.select('#fig');
const LEFT = 76.7, RIGHT = 903;   // the right spine falls just outside the canvas
const TICK = 4.3;

function label(g, parts) {
  // parts: [text, italic?, subscript?]
  parts.forEach(([t, it, sub]) => {
    const ts = g.append('tspan').text(t);
    if (it) ts.attr('font-style', 'italic');
    if (sub) ts.attr('font-size', '0.7em').attr('baseline-shift', '-22%');
  });
}

function panel(o) {
  const x = d3.scaleLinear().domain(o.xDomain).range([LEFT, RIGHT]);
  const y = d3.scaleLinear().domain(o.yDomain).range([o.bottom, o.top]);
  const id = 'clip-' + o.name;
  svg.append('clipPath').attr('id', id).append('rect')
    .attr('x', LEFT).attr('y', o.top).attr('width', RIGHT - LEFT).attr('height', o.bottom - o.top);

  const line = d3.line().x(d => x(d[0])).y(d => y(d[1])).curve(d3.curveCatmullRom.alpha(0.5));
  svg.append('g').attr('clip-path', `url(#${id})`)
    .selectAll('path').data(o.paths).join('path')
    .attr('d', line).attr('fill', 'none').attr('stroke', '#000')
    .attr('stroke-width', o.lineWidth).attr('stroke-linejoin', 'round');

  // top spine (the right one is off-canvas)
  svg.append('line').attr('x1', LEFT).attr('x2', RIGHT).attr('y1', o.top).attr('y2', o.top)
    .attr('stroke', '#000').attr('stroke-width', 1);

  const xa = svg.append('g').attr('transform', `translate(0,${o.bottom})`)
    .call(d3.axisBottom(x).tickValues(o.xTicks).tickFormat(o.xFmt).tickSize(TICK).tickSizeOuter(0).tickPadding(7.6));
  const ya = svg.append('g').attr('transform', `translate(${LEFT},0)`)
    .call(d3.axisLeft(y).tickValues(o.yTicks).tickFormat(o.yFmt).tickSize(TICK).tickSizeOuter(0).tickPadding(6.2));
  [xa, ya].forEach(a => {
    a.attr('font-family', null).attr('font-size', null);
    a.selectAll('.domain').attr('stroke', '#000').attr('stroke-width', 1);
    a.selectAll('.tick line').attr('stroke', '#000').attr('stroke-width', 1);
    a.selectAll('.tick text').attr('font-size', 14).attr('fill', '#111');
  });

  const xl = svg.append('text').attr('x', (LEFT + RIGHT) / 2).attr('y', o.xLabelY)
    .attr('text-anchor', 'middle').attr('font-size', 14);
  label(xl, o.xLabel);
  const yl = svg.append('text')
    .attr('transform', `translate(${o.yLabelX},${(o.top + o.bottom) / 2}) rotate(-90)`)
    .attr('text-anchor', 'middle').attr('font-size', 14);
  label(yl, o.yLabel);
}

panel({
  name: 'mean', top: 10.3, bottom: 308.3, lineWidth: 1.9,
  xDomain: [1.29904, 2.0954], yDomain: [1.2414, 2.1147],
  xTicks: meanUTicks, yTicks: meanUpTicks,
  xFmt: d3.format('.1f'), yFmt: d3.format('.1f'),
  paths: [meanPath],
  xLabelY: 353, yLabelX: 29.5,
  xLabel: [['<\u2009'], ['u', true], ['\u2009>\u2009('], ['t', true], [')']],
  yLabel: [['<\u2009'], ['u', true], ['p', true, true], ['\u2009>\u2009('], ['t', true], [')']]
});

panel({
  name: 'local', top: 367.8, bottom: 665.8, lineWidth: 1.9,
  xDomain: [0.18233, 1.5601], yDomain: [0.3213, 2.4943],
  xTicks: localUTicks, yTicks: localUpTicks,
  xFmt: d3.format('.1f'), yFmt: d3.format('.2f'),
  paths: localPaths,
  xLabelY: 708, yLabelX: 19.5,
  xLabel: [['u', true], ['('], ['x', true], ['0', false, true], [',\u2009'], ['t', true], [')']],
  yLabel: [['u', true], ['p', true, true], ['('], ['x', true], ['0', false, true], [',\u2009'], ['t', true], [')']]
});
</script>
</body>
</html>
